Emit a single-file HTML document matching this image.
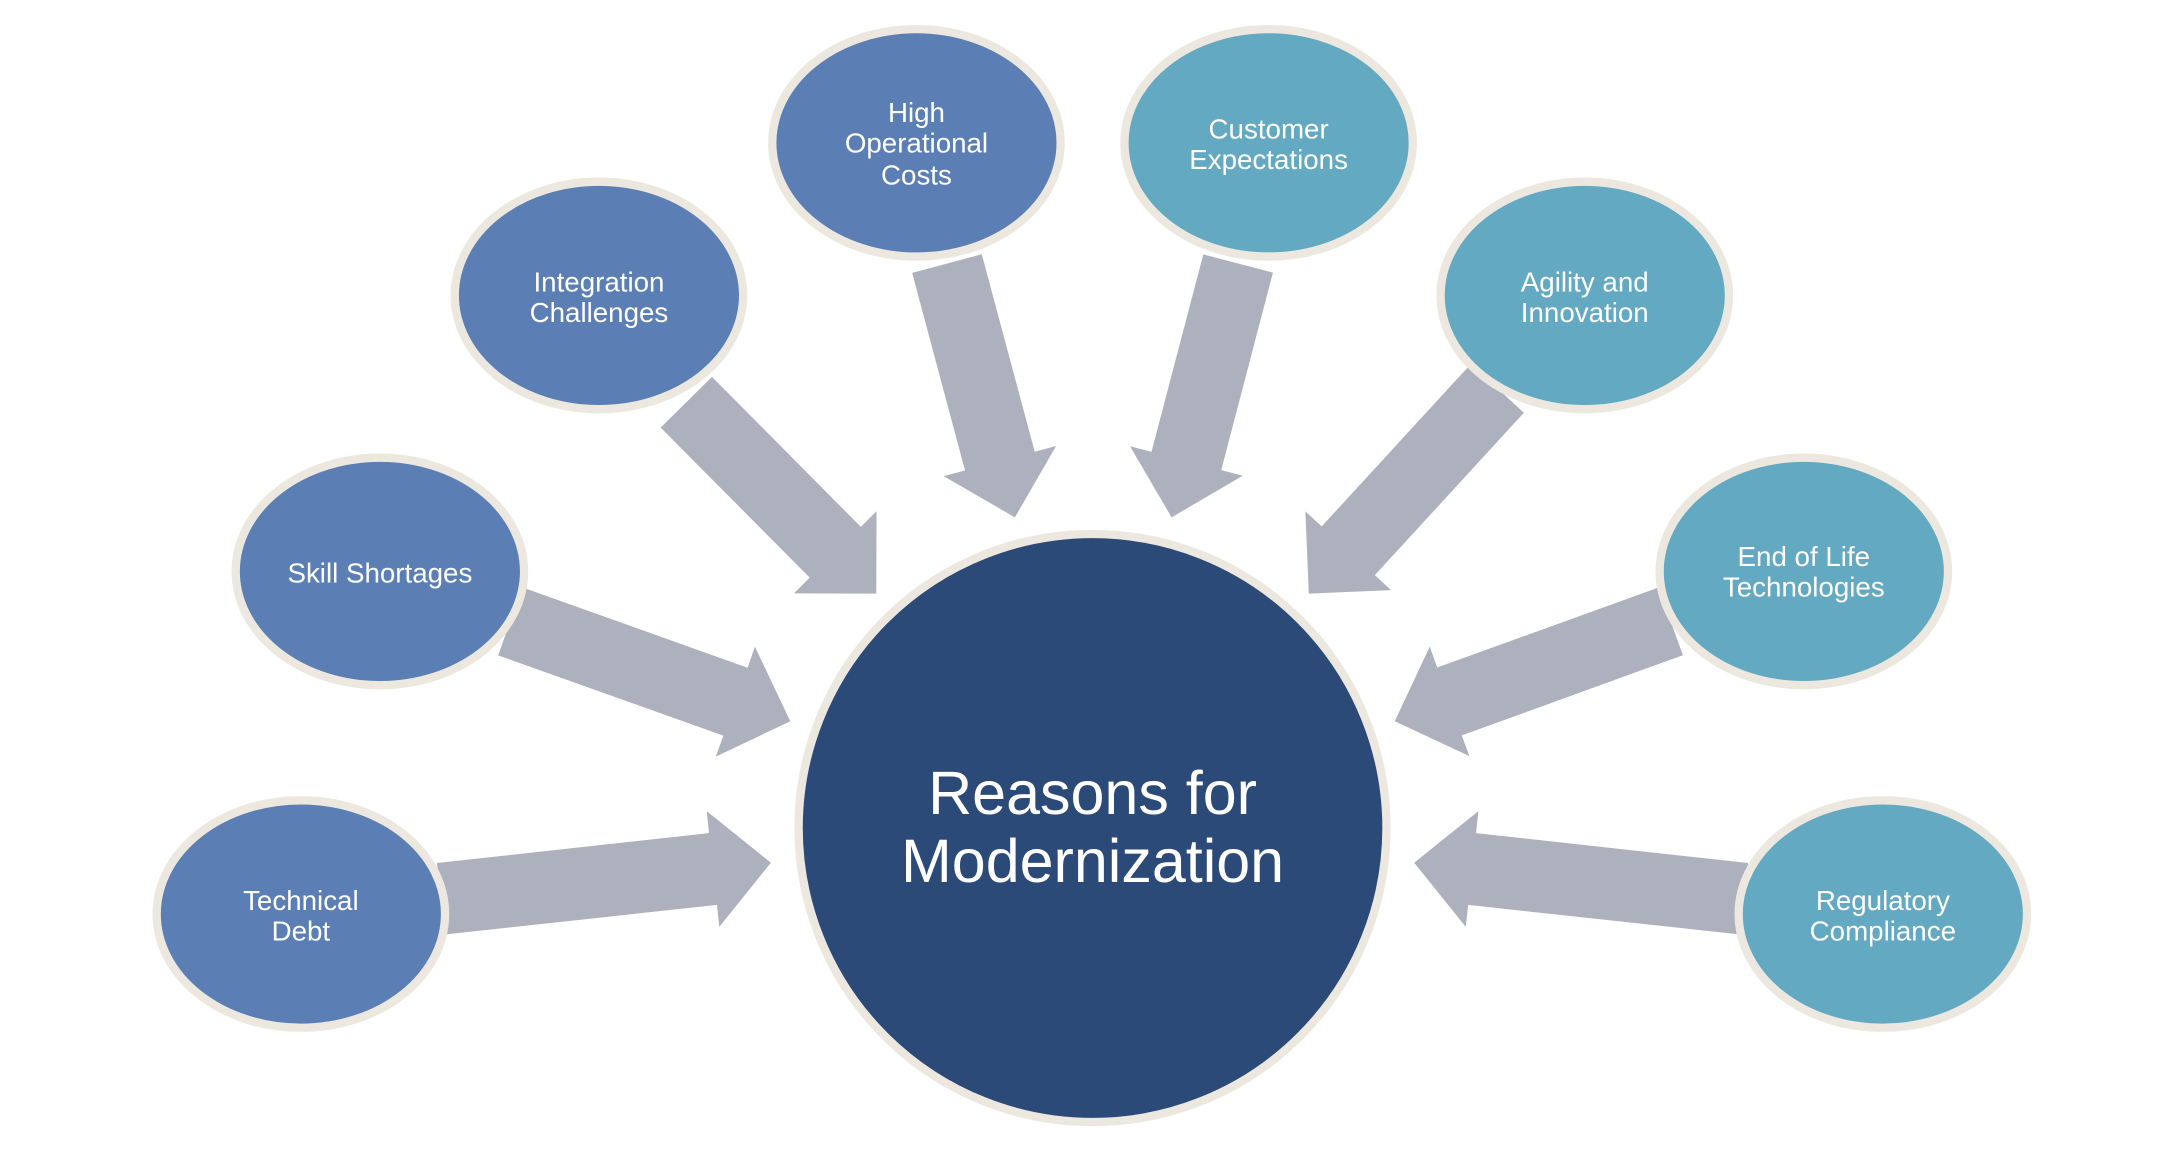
<!DOCTYPE html>
<html><head><meta charset="utf-8"><style>
html,body{margin:0;padding:0;background:#fff;}
svg{display:block;}
text{font-family:"Liberation Sans",sans-serif;fill:#fff;text-anchor:middle;}
</style></head><body>
<svg id="s" width="2174" height="1172" viewBox="0 0 1568 845" preserveAspectRatio="none" xmlns="http://www.w3.org/2000/svg">
<g id="arrows" fill="#acb1bd"></g>
<g stroke="#ece8df" stroke-width="6">
<circle cx="788" cy="597" r="212" fill="#2c4a78"/>
<ellipse cx="217" cy="659" rx="104" ry="82" fill="#5b7fb5"/>
<ellipse cx="274" cy="412" rx="104" ry="82" fill="#5b7fb5"/>
<ellipse cx="432" cy="213" rx="104" ry="82" fill="#5b7fb5"/>
<ellipse cx="661" cy="103" rx="104" ry="82" fill="#5b7fb5"/>
<ellipse cx="915" cy="103" rx="104" ry="82" fill="#64a9c2"/>
<ellipse cx="1143" cy="213" rx="104" ry="82" fill="#64a9c2"/>
<ellipse cx="1301" cy="412" rx="104" ry="82" fill="#64a9c2"/>
<ellipse cx="1358" cy="659" rx="104" ry="82" fill="#64a9c2"/>
</g>
<g font-size="20">
<text x="217" y="656">Technical</text><text x="217" y="678">Debt</text>
<text x="274" y="420">Skill Shortages</text>
<text x="432" y="210">Integration</text><text x="432" y="232">Challenges</text>
<text x="661" y="88">High</text><text x="661" y="110">Operational</text><text x="661" y="133">Costs</text>
<text x="915" y="100">Customer</text><text x="915" y="122">Expectations</text>
<text x="1143" y="210">Agility and</text><text x="1143" y="232">Innovation</text>
<text x="1301" y="408">End of Life</text><text x="1301" y="430">Technologies</text>
<text x="1358" y="656">Regulatory</text><text x="1358" y="678">Compliance</text>
</g>
<g font-size="44">
<text x="788" y="587">Reasons for</text>
<text x="788" y="636">Modernization</text>
</g>
</svg>
<script>
var A=[[318,648,556,622],[368,448,570,520],[495,290,632,428],[683,190,732,373],[893,190,845,373],[1080,280,944,428],[1205,448,1006,520],[1258,648,1020,622]];
var g=document.getElementById('arrows'),h='';
A.forEach(function(a){var dx=a[2]-a[0],dy=a[3]-a[1],L=Math.hypot(dx,dy),ux=dx/L,uy=dy/L,px=-uy,py=ux,sw=26,hw=42,hl=42;
var bx=a[2]-ux*hl,by=a[3]-uy*hl;
var p=[[a[0]+px*sw,a[1]+py*sw],[bx+px*sw,by+py*sw],[bx+px*hw,by+py*hw],[a[2],a[3]],[bx-px*hw,by-py*hw],[bx-px*sw,by-py*sw],[a[0]-px*sw,a[1]-py*sw]];
h+='<polygon points="'+p.map(function(q){return q[0].toFixed(1)+','+q[1].toFixed(1)}).join(' ')+'"/>';});
g.innerHTML=h;
</script>
</body></html>
